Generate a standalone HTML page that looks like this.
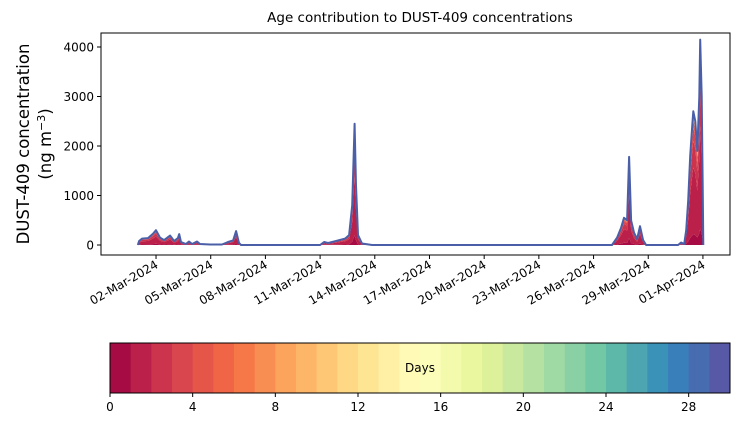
<!DOCTYPE html>
<html><head><meta charset="utf-8"><style>
body{margin:0;background:#fff;font-family:"Liberation Sans","DejaVu Sans",sans-serif;}
svg text{font-family:"DejaVu Sans","Liberation Sans",sans-serif;}
</style></head><body>
<svg id="c" width="739" height="425" viewBox="0 0 739 425">
<text x="420" y="22" font-size="13.5" text-anchor="middle">Age contribution to DUST-409 concentrations</text>
<g transform="translate(29,144) rotate(-90)">
<text x="0" y="0" font-size="16.5" text-anchor="middle">DUST-409 concentration</text>
<text x="0" y="22" font-size="16.5" text-anchor="middle">(ng m<tspan dy="-6" font-size="11">−3</tspan><tspan dy="6">)</tspan></text>
</g>
<g id="plot"></g>
<g id="cbar"></g>
</svg>
<script>
const days=[0,.07,.23,.56,.84,1.0,1.22,1.44,1.77,1.99,2.2,2.27,2.37,2.64,2.81,2.98,3.25,3.41,3.96,4.62,4.95,5.23,5.39,5.55,5.66,10.0,10.22,10.44,10.88,11.37,11.59,11.76,11.89,11.97,12.08,12.3,12.85,26.01,26.29,26.51,26.67,26.84,26.95,27.06,27.22,27.39,27.55,27.72,27.88,29.64,29.8,29.97,30.08,30.19,30.3,30.41,30.47,30.58,30.69,30.8,30.85,30.93,30.99,31.02];
const totals=[0,80,130,140,230,300,150,100,190,80,140,220,60,20,70,20,70,20,10,10,60,90,280,40,0,0,60,40,80,130,200,800,2450,1200,200,30,0,0,150,350,550,500,1780,500,250,120,380,100,0,0,50,20,300,900,1800,2400,2700,2500,1900,3000,4150,3000,1200,0];
const ageFractions=[0.08,0.5,0.2,0.1,0.05,0.03,0.02,0.02];
const ageBinCenters=[0.5,1.5,2.5,3.5,5,8,15,25];
const yTicks=[0,1000,2000,3000,4000];
const xTickDays=[1,4,7,10,13,16,19,22,25,28,31];
const xTickLabels=["02-Mar-2024","05-Mar-2024","08-Mar-2024","11-Mar-2024","14-Mar-2024","17-Mar-2024","20-Mar-2024","23-Mar-2024","26-Mar-2024","29-Mar-2024","01-Apr-2024"];
const cbTicks=[0,4,8,12,16,20,24,28];

const NS="http://www.w3.org/2000/svg";
function mk(t,a,p){const e=document.createElementNS(NS,t);for(const k in a)e.setAttribute(k,a[k]);p.appendChild(e);return e;}
const spec=["#9e0142","#d53e4f","#f46d43","#fdae61","#fee08b","#ffffbf","#e6f598","#abdda4","#66c2a5","#3288bd","#5e4fa2"];
function h2r(h){return[1,3,5].map(i=>parseInt(h.substr(i,2),16));}
function cmap(t){t=Math.max(0,Math.min(1,t));const s=t*10,i=Math.min(9,Math.floor(s)),f=s-i;const a=h2r(spec[i]),b=h2r(spec[i+1]);return "rgb("+a.map((v,k)=>Math.round(v+(b[k]-v)*f)).join(",")+")";}
const L=101,R=730,T=33,B=255;
const xs=d=>137.8+d*18.23;
const ys=v=>245-v*0.0495;
const P=document.getElementById('plot');
let cum=days.map(()=>0);
ageFractions.forEach((f,li)=>{
  const lo=cum.slice();const hi=cum.map((c,i)=>c+totals[i]*f);
  let d="M"+days.map((dd,i)=>xs(dd).toFixed(1)+","+ys(hi[i]).toFixed(1)).join("L");
  for(let i=days.length-1;i>=0;i--)d+="L"+xs(days[i]).toFixed(1)+","+ys(lo[i]).toFixed(1);
  const p=mk('path',{d:d+"Z",fill:cmap(ageBinCenters[li]/30),stroke:"none"},P);
  
  
  cum=hi;
});
const line=mk('path',{d:"M"+days.map((dd,i)=>xs(dd).toFixed(1)+","+ys(totals[i]).toFixed(1)).join("L"),fill:"none",stroke:"#4a5fa8","stroke-width":2,"stroke-linejoin":"round"},P);


const fr=mk('rect',{x:L,y:T,width:R-L,height:B-T,fill:"none",stroke:"#000","stroke-width":1},P);


yTicks.forEach(v=>{
  const y=ys(v);
  mk('line',{x1:L-4,x2:L,y1:y,y2:y,stroke:"#000"},P);
  const t=mk('text',{x:L-7,y:y+4.5,"font-size":12,"text-anchor":"end"},P);t.textContent=v;
  
  
});
xTickDays.forEach((d,i)=>{
  const x=xs(d);
  mk('line',{x1:x,x2:x,y1:B,y2:B+4,stroke:"#000"},P);
  const t=mk('text',{x:0,y:0,"font-size":12,"text-anchor":"end",transform:`translate(${x+3},${B+12}) rotate(-30)`},P);t.textContent=xTickLabels[i];
  
  
});
const C=document.getElementById('cbar');
const cx0=110,cx1=730,cy0=343,cy1=393,w=(cx1-cx0)/30;
for(let i=0;i<30;i++){
  const r=mk('rect',{x:cx0+i*w,y:cy0,width:w+0.5,height:cy1-cy0,fill:cmap((i+0.5)/30)},C);
  
  
}
mk('rect',{x:cx0,y:cy0,width:cx1-cx0,height:cy1-cy0,fill:"none",stroke:"#000"},C);
cbTicks.forEach(v=>{
  const x=cx0+v*w;
  mk('line',{x1:x,x2:x,y1:cy1,y2:cy1+4,stroke:"#000"},C);
  const t=mk('text',{x:x,y:cy1+18,"font-size":12,"text-anchor":"middle"},C);t.textContent=v;
  
  
});
const dl=mk('text',{x:420,y:372,"font-size":12,"text-anchor":"middle"},C);dl.textContent="Days";


</script>
</body></html>
